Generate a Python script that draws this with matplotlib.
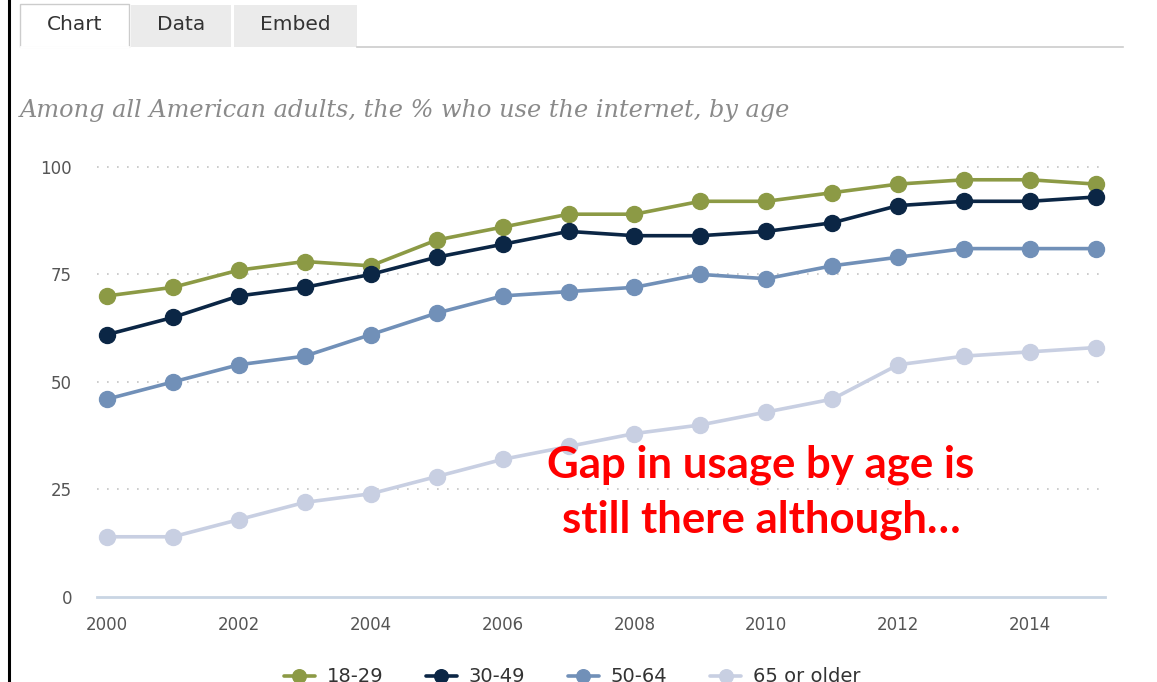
import matplotlib
matplotlib.use("Agg")
import matplotlib.pyplot as plt
from matplotlib.patches import Rectangle
from matplotlib.lines import Line2D

years = list(range(2000, 2016))
age_18_29 = [70, 72, 76, 78, 77, 83, 86, 89, 89, 92, 92, 94, 96, 97, 97, 96]
age_30_49 = [61, 65, 70, 72, 75, 79, 82, 85, 84, 84, 85, 87, 91, 92, 92, 93]
age_50_64 = [46, 50, 54, 56, 61, 66, 70, 71, 72, 75, 74, 77, 79, 81, 81, 81]
age_65_up = [14, 14, 18, 22, 24, 28, 32, 35, 38, 40, 43, 46, 54, 56, 57, 58]

series_names = ["18-29", "30-49", "50-64", "65 or older"]
series_colors = ["#8c9a45", "#0b2645", "#7190b8", "#c8cfe2"]
x_ticks = [2000, 2002, 2004, 2006, 2008, 2010, 2012, 2014]
y_ticks = [0, 25, 50, 75, 100]

title = "Among all American adults, the % who use the internet, by age"
note_lines = ["Gap in usage by age is", "still there although\u2026"]
tabs = ["Chart", "Data", "Embed"]

W, H = 1157, 682
fig = plt.figure(figsize=(W / 100, H / 100), dpi=100)


def fx(px):
    return px / W


def fy(py):
    return 1 - py / H


ax = fig.add_axes([fx(97), fy(597), fx(1105) - fx(97), fy(160) - fy(597)])

for vals, name, col in zip([age_18_29, age_30_49, age_50_64, age_65_up],
                           series_names, series_colors):
    ax.plot(years, vals, color=col, lw=2.6, marker="o", ms=11.5,
            label=name, solid_capstyle="round", zorder=3)

ax.set_xlim(1999.848, 2015.137)
ax.set_ylim(0, 101.6)
ax.set_xticks(x_ticks)
ax.set_yticks(y_ticks)
ax.tick_params(length=0, labelsize=12, labelcolor="#555555")
ax.tick_params(axis="y", pad=18)
ax.tick_params(axis="x", pad=14)
for lbl in ax.get_yticklabels():
    lbl.set_horizontalalignment("right")

# dotted gridlines above zero, solid light baseline at zero
for v in y_ticks[1:]:
    ax.axhline(v, color="#c4c4c4", lw=1.2, ls=(0, (1, 5)), zorder=1)
ax.axhline(0, color="#c9d5e3", lw=2, zorder=2, clip_on=False)
for s in ax.spines.values():
    s.set_visible(False)

# tab strip at the top
tab_edges = [(20, 129), (131, 231), (234, 357)]
for (x0, x1), name in zip(tab_edges, tabs):
    if name == "Chart":
        fig.add_artist(Rectangle((fx(x0), fy(47)), fx(x1) - fx(x0), fy(4) - fy(47),
                                 transform=fig.transFigure, facecolor="white",
                                 edgecolor="#cccccc", lw=1))
        fig.add_artist(Line2D([fx(x0) + 0.001, fx(x1) - 0.001], [fy(47), fy(47)],
                              transform=fig.transFigure, color="white", lw=2))
    else:
        fig.add_artist(Rectangle((fx(x0), fy(47)), fx(x1) - fx(x0), fy(5) - fy(47),
                                 transform=fig.transFigure, facecolor="#ebebeb",
                                 edgecolor="none"))
    fig.text(fx((x0 + x1) / 2), fy(25), name, ha="center", va="center",
             fontsize=14.5, color="#333333")
fig.add_artist(Line2D([fx(357), fx(1123)], [fy(47), fy(47)],
                      transform=fig.transFigure, color="#cccccc", lw=1.2))

fig.text(fx(20), fy(111), title, ha="left", va="center", fontsize=17.3,
         family="DejaVu Serif", style="italic", color="#8a8a8a")

for line, py in zip(note_lines, [465, 520]):
    fig.text(fx(761), fy(py), line, ha="center", va="center", fontsize=31.5,
             fontweight="bold", family="Lato", color="#ff0000")

# left border
fig.add_artist(Line2D([fx(9), fx(9)], [0, 1], transform=fig.transFigure,
                      color="black", lw=2.2))

fig.legend(loc="center", bbox_to_anchor=(fx(572), fy(677)), ncol=4,
           frameon=False, fontsize=14, handlelength=1.6, markerscale=0.85,
           columnspacing=2.2, handletextpad=0.6, labelcolor="#333333")

fig.savefig("out.png", dpi=100)
